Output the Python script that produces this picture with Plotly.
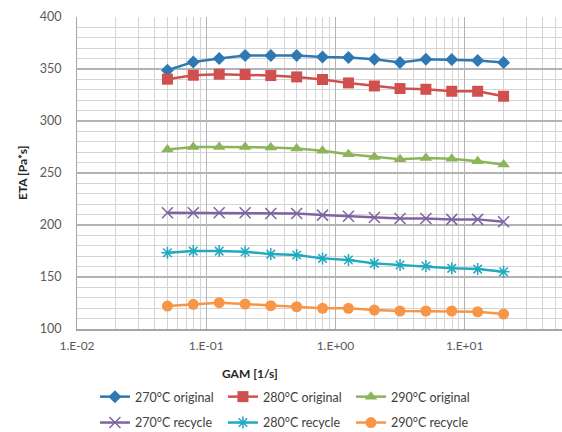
import plotly.graph_objects as go

# ---- data ----
gam = [0.0501, 0.0794, 0.126, 0.2, 0.316, 0.501, 0.794, 1.26, 2.0, 3.16, 5.01, 7.94, 12.6, 20.0]

eta_270_original = [348.8, 356.8, 360.0, 362.9, 362.9, 362.9, 361.6, 361.0, 359.4, 356.2, 359.4, 359.1, 358.1, 356.2]
eta_280_original = [340.2, 344.0, 345.0, 344.7, 343.7, 342.4, 339.9, 336.6, 333.7, 331.2, 330.5, 328.6, 328.6, 323.8]
eta_290_original = [272.6, 275.1, 275.1, 275.1, 274.5, 273.6, 271.3, 268.1, 265.5, 263.3, 264.5, 263.6, 261.4, 258.2]
eta_270_recycle = [211.7, 211.7, 211.7, 211.7, 211.1, 211.1, 209.5, 208.5, 207.3, 206.3, 206.3, 205.4, 205.4, 203.1]
eta_280_recycle = [173.3, 174.9, 174.9, 174.3, 172.0, 171.1, 167.9, 166.3, 163.1, 161.5, 160.5, 158.3, 157.6, 155.0]
eta_290_recycle = [122.1, 123.7, 125.3, 124.0, 122.4, 121.4, 119.9, 119.9, 118.2, 117.3, 117.3, 117.3, 116.6, 114.4]

series_names = ["270°C original", "280°C original", "290°C original",
                "270°C recycle", "280°C recycle", "290°C recycle"]
series_values = [eta_270_original, eta_280_original, eta_290_original,
                 eta_270_recycle, eta_280_recycle, eta_290_recycle]
series_colors = ["#2E78B4", "#CF504E", "#8CB45A", "#8064A2", "#21AABF", "#F79646"]
series_symbols = ["diamond", "square", "triangle-up", "x-thin-open", "asterisk-open", "circle"]
series_sizes = [10, 11, 11, 11, 10, 11]
series_legend = ["legend", "legend", "legend", "legend2", "legend2", "legend2"]

x_tickvals = [0.01, 0.1, 1, 10]
x_ticktext = ["1.E-02", "1.E-01", "1.E+00", "1.E+01"]
x_minor = [m * 10.0 ** e for e in (-2, -1, 0, 1) for m in range(2, 10)]

FONT = "Lato, 'Open Sans', sans-serif"

fig = go.Figure()
for name, vals, col, sym, sz, lg in zip(series_names, series_values, series_colors,
                                        series_symbols, series_sizes, series_legend):
    fig.add_trace(go.Scatter(
        x=gam, y=vals, name=name, mode="lines+markers", legend=lg,
        line=dict(color=col, width=2.5),
        marker=dict(symbol=sym, size=sz, color=col,
                    line=dict(color=col, width=1.5 if "open" in sym else 0)),
    ))

grid_major = "#B3B3B3"
grid_minor = "#D4D4D4"

fig.update_layout(
    width=562, height=432,
    margin=dict(l=77, r=0, t=17, b=103, autoexpand=False),
    paper_bgcolor="white", plot_bgcolor="white",
    font=dict(family=FONT, size=12, color="#595959"),
    showlegend=True,
    legend=dict(orientation="h", x=0.037, xanchor="left", y=-0.218, yanchor="middle",
                entrywidth=83, entrywidthmode="pixels",
                font=dict(family=FONT, size=12.5, color="#404040"),
                bgcolor="rgba(0,0,0,0)", traceorder="normal"),
    legend2=dict(orientation="h", x=0.037, xanchor="left", y=-0.301, yanchor="middle",
                 entrywidth=83, entrywidthmode="pixels",
                 font=dict(family=FONT, size=12.5, color="#404040"),
                 bgcolor="rgba(0,0,0,0)", traceorder="normal"),
    xaxis=dict(
        type="log", range=[-2, 1.753], automargin=False,
        tickvals=x_tickvals, ticktext=x_ticktext,
        showgrid=True, gridcolor=grid_major, gridwidth=1,
        minor=dict(tickvals=x_minor, showgrid=True, gridcolor=grid_minor, gridwidth=1, ticks=""),
        showline=True, linecolor="#A6A6A6", linewidth=1.5,
        ticks="", ticklabelstandoff=5,
        tickfont=dict(family=FONT, size=12, color="#595959"),
        zeroline=False,
    ),
    yaxis=dict(
        range=[100, 400], dtick=50, automargin=False,
        showgrid=True, gridcolor=grid_major, gridwidth=1.5,
        minor=dict(dtick=10, showgrid=True, gridcolor=grid_minor, gridwidth=1, ticks=""),
        showline=True, linecolor="#A6A6A6", linewidth=1,
        ticks="", ticklabelstandoff=12,
        tickfont=dict(family=FONT, size=12.5, color="#595959"),
        zeroline=False,
    ),
    annotations=[
        dict(text="<b>GAM [1/s]</b>", xref="paper", yref="paper",
             x=0.357, y=-0.144, xanchor="center", yanchor="middle", showarrow=False,
             font=dict(family=FONT, size=12, color="#262626")),
        dict(text="<b>ETA [Pa*s]</b>", xref="paper", yref="paper",
             x=-(77 - 22) / 485, y=0.5, xanchor="center", yanchor="middle", showarrow=False,
             textangle=-90, font=dict(family=FONT, size=12, color="#262626")),
    ],
)

fig.write_html(
    "out.html",
    config={"displayModeBar": False},
    post_script="document.body.style.margin='0px';document.body.style.overflow='hidden';",
)
